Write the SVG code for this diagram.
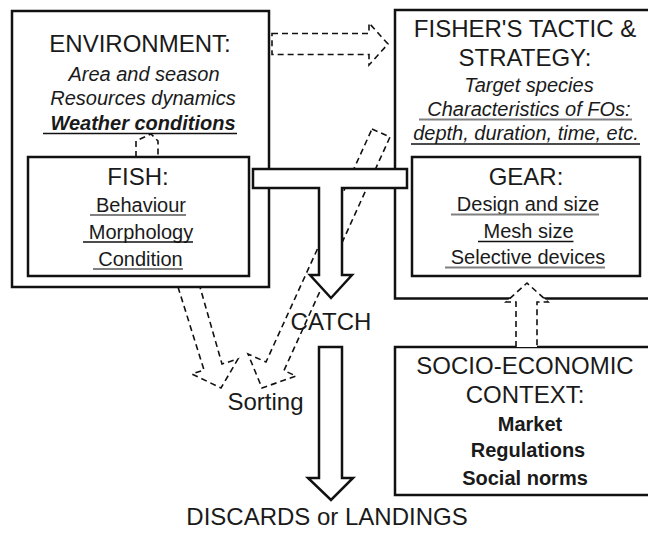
<svg xmlns="http://www.w3.org/2000/svg" width="648" height="534" viewBox="0 0 648 534">
<style>
  .box { fill: #ffffff; stroke: #111; stroke-width: 2.5; }
  .t { font-family: "Liberation Sans", Arial, sans-serif; fill: #1a1a1a; text-anchor: middle; }
  .h { font-size: 24px; }
  .i { font-size: 20px; }
  .it { font-style: italic; }
  .b { font-weight: bold; }
  .ul { stroke: #111; stroke-width: 1.5; }
  .ug { stroke: #808080; stroke-width: 1.8; }
  .dash { fill: none; stroke: #111; stroke-width: 1.6; stroke-dasharray: 6 4; }
  .dashw { fill: #ffffff; stroke: #111; stroke-width: 1.6; stroke-dasharray: 6 4; }
  .solid { fill: #ffffff; stroke: #111; stroke-width: 2.5; stroke-linejoin: miter; }
</style>
<rect width="648" height="534" fill="#ffffff"/>
<g id="nodes">
  <g id="environment">
    <rect class="box" x="12" y="11" width="257" height="276"/>
    <text class="t h" x="140" y="52">ENVIRONMENT:</text>
    <text class="t i it" x="144" y="81">Area and season</text>
    <text class="t i it" x="143" y="105">Resources dynamics</text>
    <text class="t i it b" x="143" y="130">Weather conditions</text>
    <line class="ul" x1="43" y1="133.5" x2="237" y2="133.5"/>
  </g>
  <g id="fish">
    <rect class="box" x="28" y="157" width="221" height="119"/>
    <text class="t h" x="138" y="185">FISH:</text>
    <text class="t i" x="141" y="212">Behaviour</text>
    <line class="ug" x1="90" y1="215" x2="186" y2="215"/>
    <text class="t i" x="141" y="239">Morphology</text>
    <line class="ul" x1="83" y1="242" x2="193" y2="242"/>
    <text class="t i" x="140.5" y="266">Condition</text>
    <line class="ug" x1="93" y1="269" x2="183" y2="269"/>
  </g>
  <g id="fishers-tactic">
    <rect class="box" x="395" y="10" width="265" height="288.5"/>
    <text class="t h" x="525" y="37">FISHER'S TACTIC &amp;</text>
    <text class="t h" x="525" y="66">STRATEGY:</text>
    <text class="t i it" x="529" y="92">Target species</text>
    <text class="t i it" x="529" y="116">Characteristics of FOs:</text>
    <line class="ug" x1="419" y1="119.5" x2="632" y2="119.5"/>
    <text class="t i it" x="526" y="140">depth, duration, time, etc.</text>
    <line class="ul" x1="411" y1="144" x2="640" y2="144"/>
  </g>
  <g id="gear">
    <rect class="box" x="412" y="157" width="228" height="119"/>
    <text class="t h" x="526" y="185">GEAR:</text>
    <text class="t i" x="528" y="211">Design and size</text>
    <line class="ug" x1="451" y1="214.5" x2="599" y2="214.5"/>
    <text class="t i" x="528.5" y="238">Mesh size</text>
    <line class="ul" x1="478" y1="241.5" x2="573.5" y2="241.5"/>
    <text class="t i" x="528" y="264">Selective devices</text>
    <line class="ug" x1="445" y1="267.5" x2="605" y2="267.5"/>
  </g>
  <g id="socio-economic">
    <rect class="box" x="395" y="347" width="265" height="148"/>
    <text class="t h" x="525" y="374">SOCIO-ECONOMIC</text>
    <text class="t h" x="525" y="403">CONTEXT:</text>
    <text class="t i b" x="530" y="431">Market</text>
    <text class="t i b" x="528" y="457">Regulations</text>
    <text class="t i b" x="525" y="485">Social norms</text>
  </g>
  <g id="catch">
    <text class="t h" x="331" y="330">CATCH</text>
  </g>
  <g id="sorting">
    <text class="t h" x="265.5" y="410">Sorting</text>
  </g>
  <g id="discards">
    <text class="t h" x="327" y="525">DISCARDS or LANDINGS</text>
  </g>
</g>
<g id="connectors">
  <path class="dashw" d="M272,33.5 H369 V23 L388,44 L369,65 V54.5 H272 Z"/>
  <path class="dash" d="M136,157 V141 L151,134 L158,141 V157"/>
  <path class="dash" d="M178,287 L204,370 L192,374 L221,388 L238,359 L222,364 L200,287"/>
  <path class="dash" d="M372,129 L390,137 L284,370.5 L296,376 L262,388 L248,354 L266,362 Z"/>
  <path class="dashw" d="M516,347 V302 H506 L527,283 L548,302 H537 V347"/>
  <path class="solid" d="M253,169 H407 V188 H342 V275 H352 L331,298 L310,275 H319 V188 H253 Z"/>
  <path class="solid" d="M319,347 H342 V478 H353 L331,500 L308,478 H319 Z"/>
</g>
</svg>
